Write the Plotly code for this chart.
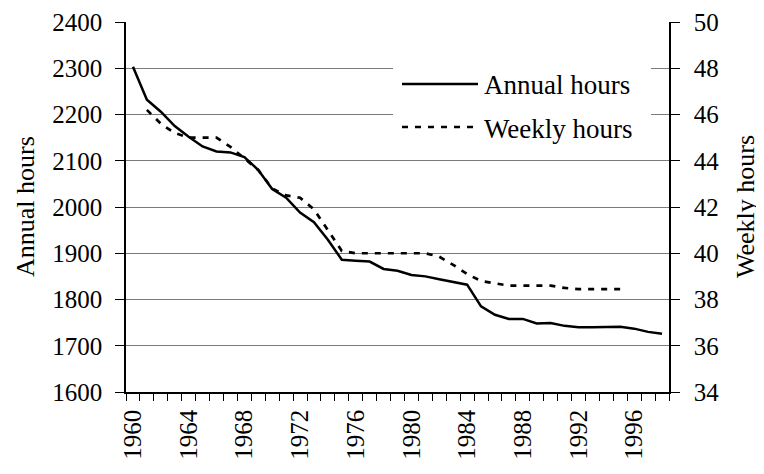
import plotly.graph_objects as go

years = list(range(1960, 1999))
annual_hours = [2303, 2232, 2206, 2175, 2152, 2131, 2120, 2118, 2108, 2080,
                2039, 2020, 1988, 1967, 1929, 1886, 1884, 1882, 1866, 1862,
                1853, 1850, 1844, 1838, 1832, 1785, 1767, 1758, 1758, 1748,
                1749, 1743, 1740, 1740, 1740, 1741, 1737, 1730, 1726]
weekly_hours = [None, 46.2, 45.6, 45.2, 45.0, 45.0, 45.0, 44.6, 44.1, 43.6,
                42.8, 42.5, 42.4, 41.9, 41.0, 40.1, 40.0, 40.0, 40.0, 40.0,
                40.0, 40.0, 39.85, 39.5, 39.1, 38.8, 38.7, 38.6, 38.6, 38.6,
                38.6, 38.5, 38.45, 38.45, 38.45, 38.45, None, None, None]
left_ticks = [1600, 1700, 1800, 1900, 2000, 2100, 2200, 2300, 2400]
right_ticks = [34, 36, 38, 40, 42, 44, 46, 48, 50]

cats = [str(y) for y in years]
ticktext = [str(y) if y % 4 == 0 else "" for y in years]

FONT = "Liberation Serif, Times New Roman, serif"

fig = go.Figure()
fig.add_trace(go.Scatter(x=cats, y=annual_hours, mode="lines", name="Annual hours",
                         line=dict(color="black", width=2.5), showlegend=False))
fig.add_trace(go.Scatter(x=cats, y=weekly_hours, mode="lines", name="Weekly hours",
                         yaxis="y2", line=dict(color="black", width=2.7, dash="6px,7px"),
                         showlegend=False))

# page body has an 8px margin: figure drawn 8px in from the top-left corner
OFF = 8
W, H = 764 - OFF, 474 - OFF
L, R, T, B = 126 - OFF, 95, 22 - OFF, 82
pw, ph = W - L - R, H - T - B

def px(x):
    return (x - OFF - L) / pw

def py(y):
    return (H - B - (y - OFF)) / ph

shapes = [
    dict(type="rect", xref="paper", yref="paper", x0=px(393), x1=px(651), y0=py(153), y1=py(58),
         fillcolor="white", line=dict(width=0), layer="above"),
    dict(type="line", xref="paper", yref="paper", x0=px(402), x1=px(478), y0=py(84), y1=py(84),
         line=dict(color="black", width=2.5), layer="above"),
    dict(type="line", xref="paper", yref="paper", x0=px(402), x1=px(474), y0=py(127), y1=py(127),
         line=dict(color="black", width=2.7, dash="6px,7px"), layer="above"),
]
tfont = dict(family=FONT, size=27, color="black")
annotations = [
    dict(xref="paper", yref="paper", x=px(482), y=py(85), text="Annual hours", showarrow=False,
         xanchor="left", yanchor="middle", font=tfont),
    dict(xref="paper", yref="paper", x=px(482), y=py(129), text="Weekly hours", showarrow=False,
         xanchor="left", yanchor="middle", font=tfont),
    dict(xref="paper", yref="paper", x=px(25), y=py(207), text="Annual hours", showarrow=False,
         textangle=-90, xanchor="center", yanchor="middle", borderpad=0,
         font=dict(family=FONT, size=26, color="black")),
    dict(xref="paper", yref="paper", x=px(745), y=py(207), text="Weekly hours", showarrow=False,
         textangle=-90, xanchor="center", yanchor="middle", borderpad=0,
         font=dict(family=FONT, size=26, color="black")),
]

fig.update_layout(
    width=W, height=H,
    margin=dict(l=L, r=R, t=T, b=B, autoexpand=False),
    paper_bgcolor="white", plot_bgcolor="white",
    font=dict(family=FONT, size=25, color="black"),
    shapes=shapes, annotations=annotations,
    xaxis=dict(type="category", categoryorder="array", categoryarray=cats,
               tickmode="array", tickvals=cats, ticktext=ticktext,
               tickson="boundaries", ticks="outside", ticklen=7, tickcolor="black",
               tickangle=-90, showline=True, linecolor="black", linewidth=1.5,
               showgrid=False, range=[-0.5, len(cats) - 0.5], ticklabelstandoff=6,
               tickfont=dict(family=FONT, size=25)),
    yaxis=dict(range=[1600, 2400], tickvals=left_ticks, showgrid=True, gridcolor="#7a7a7a",
               gridwidth=1, showline=True, linecolor="black", linewidth=1.5,
               ticks="outside", ticklen=9, tickcolor="black", ticklabelstandoff=8,
               tickfont=dict(family=FONT, size=25), zeroline=False),
    yaxis2=dict(range=[34, 50], tickvals=right_ticks, overlaying="y", side="right",
                showgrid=False, showline=True, linecolor="black", linewidth=1.5,
                ticks="outside", ticklen=9, tickcolor="black", ticklabelstandoff=9,
                tickfont=dict(family=FONT, size=25), zeroline=False),
)

fig.write_html("out.html")
